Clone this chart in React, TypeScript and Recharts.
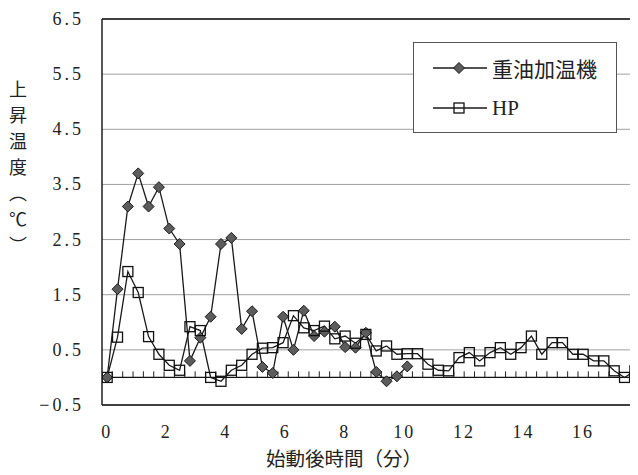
import React from 'react';
import { LineChart, Line, XAxis, YAxis, CartesianGrid, ReferenceLine, Legend, Label } from 'recharts';

// rise in temperature (°C), one sample every ~20 s after start-up
const oilHeater = [0, 1.6, 3.1, 3.7, 3.1, 3.45, 2.7, 2.42, 0.3, 0.72, 1.1, 2.42, 2.53, 0.88, 1.2, 0.19, 0.08, 1.1, 0.5, 1.21, 0.75, 0.83, 0.92, 0.55, 0.54, 0.81, 0.1, -0.07, 0.02, 0.2];
const heatPump = [0, 0.73, 1.92, 1.54, 0.74, 0.42, 0.22, 0.13, 0.92, 0.85, 0.0, -0.07, 0.13, 0.22, 0.42, 0.53, 0.54, 0.63, 1.12, 0.9, 0.85, 0.93, 0.7, 0.75, 0.62, 0.78, 0.48, 0.57, 0.42, 0.43, 0.43, 0.24, 0.13, 0.12, 0.36, 0.45, 0.3, 0.45, 0.54, 0.42, 0.54, 0.75, 0.42, 0.63, 0.63, 0.42, 0.42, 0.3, 0.3, 0.12, 0.0, 0.12];
const minuteTicks = [0, 2, 4, 6, 8, 10, 12, 14, 16];
const tempTicks = [-0.5, 0.5, 1.5, 2.5, 3.5, 4.5, 5.5, 6.5];
const yTitleChars = ['上', '昇', '温', '度', '︵', '℃', '︶'];
const legendOrder = ['oil', 'hp'];

const SERIF = '"Liberation Serif", "Times New Roman", "DejaVu Serif", serif';
const CJK = '"Noto Sans CJK JP", "Noto Sans", sans-serif';

const rows = heatPump.map((hp, i) => ({ i, hp, oil: i < oilHeater.length ? oilHeater[i] : null }));
// small inside ticks on the zero line, between samples
const sampleBounds = heatPump.slice(1).map((_, i) => i + 0.5);

const renderDiamond = (p: any) => {
  if (p.cx == null || p.cy == null || p.value == null) return <g key={p.index} />;
  const { cx, cy } = p;
  const r = 5.5;
  return (
    <polygon key={p.index} points={`${cx},${cy - r} ${cx + r},${cy} ${cx},${cy + r} ${cx - r},${cy}`}
      fill="#5c5c5c" stroke="#1a1a1a" strokeWidth={1} />
  );
};

const renderSquare = (p: any) => {
  if (p.cx == null || p.cy == null || p.value == null) return <g key={p.index} />;
  return <rect key={p.index} x={p.cx - 5} y={p.cy - 5} width={10} height={10} fill="none" stroke="#111" strokeWidth={1.3} />;
};

const MinuteTick = (props: any) => (
  <text x={props.x} y={props.y} textAnchor="middle" dominantBaseline="central"
    style={{ fontFamily: SERIF, fontSize: 18, letterSpacing: 2 }} fill="#222">{props.payload.value}</text>
);

const TempTick = (props: any) => (
  <text x={props.x} y={props.y} textAnchor="end" dominantBaseline="central"
    style={{ fontFamily: SERIF, fontSize: 18, letterSpacing: 3 }} fill="#222">
    {Number(props.payload.value).toFixed(1).replace('-', '\u2212')}
  </text>
);

const XTitle = (props: any) => {
  const vb = props.viewBox;
  return (
    <text x={vb.x + vb.width / 2 - 26} y={vb.y + 52} textAnchor="middle" dominantBaseline="central"
      style={{ fontFamily: CJK, fontSize: 19.5 }} fill="#222">始動後時間（分）</text>
  );
};

const YTitle = (props: any) => {
  const vb = props.viewBox;
  return (
    <g>
      {yTitleChars.map((c, k) => (
        <text key={k} x={10} y={vb.y + 69 + k * 26} textAnchor="middle" dominantBaseline="central"
          style={{ fontFamily: CJK, fontSize: 18 }} fill="#222">{c}</text>
      ))}
    </g>
  );
};

const LegendMark = ({ kind }: { kind: string }) => (
  <svg width={54} height={14} style={{ display: 'block' }}>
    <line x1={0} y1={7} x2={54} y2={7} stroke="#1a1a1a" strokeWidth={1.3} />
    {kind === 'oil'
      ? <polygon points="26,1.5 31.5,7 26,12.5 20.5,7" fill="#5c5c5c" stroke="#1a1a1a" strokeWidth={1} />
      : <rect x={21} y={2} width={10} height={10} fill="none" stroke="#111" strokeWidth={1.3} />}
  </svg>
);

const renderLegend = (props: any) => {
  const items = [...(props.payload || [])].sort((a: any, b: any) => legendOrder.indexOf(a.dataKey) - legendOrder.indexOf(b.dataKey));
  return (
    <div style={{ position: 'relative', width: 204, height: 91, border: '1px solid #555', boxSizing: 'border-box', background: '#fff' }}>
      {items.map((entry: any, k: number) => (
        <div key={entry.value} style={{ position: 'absolute', left: 19, top: 12 + k * 40, height: 26, display: 'flex', alignItems: 'center' }}>
          <LegendMark kind={entry.dataKey} />
          <span style={{ marginLeft: 5, fontFamily: entry.dataKey === 'oil' ? CJK : SERIF, fontSize: 21, color: '#222', whiteSpace: 'nowrap' }}>{entry.value}</span>
        </div>
      ))}
    </div>
  );
};

export default function App() {
  return (
    <div style={{ width: 630, height: 467, overflow: 'hidden' }}>
      <LineChart width={630} height={467} data={rows} margin={{ top: 11, right: 0, bottom: 20, left: 0 }}>
        <CartesianGrid vertical={false} stroke="#a0a0a0" xAxisId="idx" />
        <XAxis xAxisId="idx" dataKey="i" type="number" domain={[-0.5, 51.3]} allowDataOverflow hide height={0} />
        <XAxis xAxisId="min" dataKey="i" type="number" domain={[-0.16, 17.85]} allowDataOverflow ticks={minuteTicks}
          height={50} tickLine={false} tickSize={0} tickMargin={27} interval={0}
          axisLine={{ stroke: '#111', strokeWidth: 1.4 }} tick={<MinuteTick />}>
          <Label content={<XTitle />} />
        </XAxis>
        <YAxis type="number" domain={[-0.5, 6.5]} ticks={tempTicks} allowDataOverflow width={94} interval={0}
          tickLine={false} tickSize={0} tickMargin={18} axisLine={{ stroke: '#111', strokeWidth: 1.4 }} tick={<TempTick />}>
          <Label content={<YTitle />} />
        </YAxis>
        <ReferenceLine xAxisId="idx" y={6.5} stroke="#111" strokeWidth={1.6} />
        <ReferenceLine xAxisId="idx" y={0} stroke="#111" strokeWidth={1.3} />
        {sampleBounds.map((b) => (
          <ReferenceLine key={b} xAxisId="idx" segment={[{ x: b, y: 0 }, { x: b, y: 0.11 }]} stroke="#222" strokeWidth={1} />
        ))}
        <Legend layout="vertical" align="center" verticalAlign="middle"
          wrapperStyle={{ left: 405, top: 34, width: 204, height: 91 }} content={renderLegend} />
        <Line xAxisId="idx" dataKey="oil" name="重油加温機" stroke="#1a1a1a" strokeWidth={1.3}
          dot={renderDiamond} activeDot={false} isAnimationActive={false} />
        <Line xAxisId="idx" dataKey="hp" name="HP" stroke="#1a1a1a" strokeWidth={1.3}
          dot={renderSquare} activeDot={false} isAnimationActive={false} />
      </LineChart>
    </div>
  );
}
